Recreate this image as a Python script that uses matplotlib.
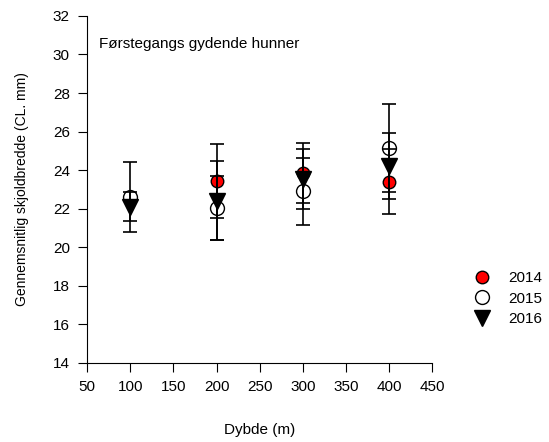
import matplotlib
matplotlib.use("Agg")
import matplotlib.pyplot as plt

plt.rcParams['font.family'] = ['Liberation Sans', 'DejaVu Sans']

# Mean carapace width per depth, with +/- error
depth_2014 = [200, 300, 400]
mean_2014 = [23.45, 23.85, 23.4]
err_2014 = [1.92, 1.55, 1.67]

depth_2015 = [100, 200, 300, 400]
mean_2015 = [22.6, 22.05, 22.9, 25.15]
err_2015 = [1.8, 1.65, 1.75, 2.3]

depth_2016 = [100, 200, 300, 400]
mean_2016 = [22.1, 22.4, 23.55, 24.2]
err_2016 = [0.75, 2.05, 1.55, 1.7]

x_ticks = [50, 100, 150, 200, 250, 300, 350, 400, 450]
y_ticks = [14, 16, 18, 20, 22, 24, 26, 28, 30, 32]

fig = plt.figure(figsize=(5.49, 4.42), dpi=100)
ax = fig.add_axes([0.159, 0.179, 0.628, 0.785])

series = [
    ('2014', depth_2014, mean_2014, err_2014, dict(marker='o', mfc='red', mec='black', ms=9)),
    ('2015', depth_2015, mean_2015, err_2015, dict(marker='o', mfc='white', mec='black', ms=10)),
    ('2016', depth_2016, mean_2016, err_2016, dict(marker='v', mfc='black', mec='black', ms=11)),
]

handles = []
for label, x, y, e, style in series:
    h, = ax.plot(x, y, ls='none', mew=1.0, zorder=3, label=label, **style)
    handles.append(h)

# error bars go on top of the symbols
for label, x, y, e, style in series:
    ax.errorbar(x, y, yerr=e, fmt='none', ecolor='black', elinewidth=1.2,
                capsize=5, capthick=1.2, zorder=4)

ax.set_xlim(50, 450)
ax.set_ylim(14, 32)
ax.set_xticks(x_ticks)
ax.set_yticks(y_ticks)
ax.tick_params(direction='out', length=6.5, width=0.8, labelsize=11, pad=6)

for side in ['top', 'right']:
    ax.spines[side].set_visible(False)
for side in ['left', 'bottom']:
    ax.spines[side].set_linewidth(0.8)

ax.set_xlabel('Dybde (m)', fontsize=11, labelpad=21)
ax.set_ylabel('Gennemsnitlig skjoldbredde (CL. mm)', fontsize=10, labelpad=17)

ax.text(0.035, 0.92, 'Førstegangs gydende hunner', transform=ax.transAxes,
        fontsize=11, va='center', ha='left')

fig.legend(handles=handles, loc='upper left', bbox_to_anchor=(0.853, 0.40),
           frameon=False, fontsize=11, handlelength=1.0, handletextpad=1.2,
           labelspacing=0.42, borderaxespad=0)

fig.savefig('out.png', dpi=100)
